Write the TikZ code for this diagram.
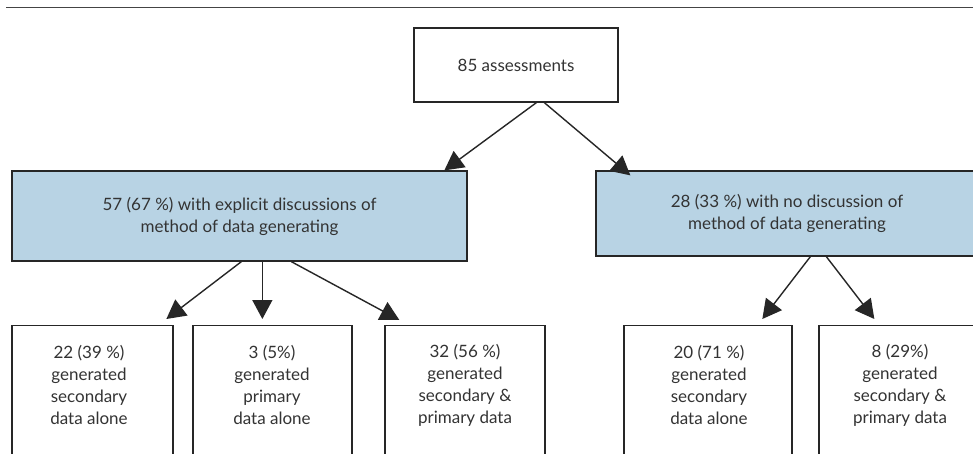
\documentclass[tikz,border=0pt]{standalone}
\usepackage{fontspec}
\setmainfont{Lato}
\usetikzlibrary{arrows.meta,calc}
\definecolor{boxblue}{HTML}{B8D3E4}
\definecolor{edge}{HTML}{262626}
\definecolor{txt}{HTML}{333333}
\definecolor{rulegray}{HTML}{444444}
\begin{document}
\begin{tikzpicture}[x=1pt,y=-1pt,
  every node/.style={font=\fontsize{17}{22}\selectfont, text=txt},
  whitebox/.style={draw=edge, line width=1.3pt, fill=white, inner sep=0pt},
  bluebox/.style={draw=edge, line width=1.3pt, fill=boxblue, inner sep=0pt, align=center},
  lbl/.style={align=center, inner sep=0pt},
  arr/.style={draw=edge, line width=1.4pt, -{Triangle[length=19pt,width=20pt]}}
]
\useasboundingbox (0,0) rectangle (973,453);
\clip (0,0) rectangle (973,453);
\fill[white] (0,0) rectangle (973,453);
\coordinate (ruleL) at (6,7.5);
\coordinate (ruleR) at (973,7.5);
\draw[rulegray, line width=1.7pt] (ruleL) -- (ruleR);

\node[whitebox, minimum width=204pt, minimum height=74pt] (top) at (516,65) {85 assessments};
\node[bluebox, minimum width=455pt, minimum height=90pt] (lb) at (239.5,216)
  {57 (67 \%) with explicit discussions of\\method of data generating};
\node[bluebox, minimum width=382pt, minimum height=85pt] (rb) at (787,213.5)
  {28 (33 \%) with no discussion of\\method of data generating};

\node[whitebox, minimum width=161pt, minimum height=175pt, anchor=north] (b1) at (92.5,325) {};
\node[whitebox, minimum width=159pt, minimum height=175pt, anchor=north] (b2) at (272.5,325) {};
\node[whitebox, minimum width=160pt, minimum height=175pt, anchor=north] (b3) at (465,325) {};
\node[whitebox, minimum width=168pt, minimum height=175pt, anchor=north] (b4) at (708,325) {};
\node[whitebox, minimum width=160pt, minimum height=175pt, anchor=north] (b5) at (899,325) {};

\node[lbl] (t1) at (89,385) {22 (39 \%)\\generated\\secondary\\data alone};
\node[lbl] (t2) at (272,385) {3 (5\%)\\generated\\primary\\data alone};
\node[lbl] (t3) at (465,385) {32 (56 \%)\\generated\\secondary \&\\primary data};
\node[lbl] (t4) at (709,385) {20 (71 \%)\\generated\\secondary\\data alone};
\node[lbl] (t5) at (900,385) {8 (29\%)\\generated\\secondary \&\\primary data};

\draw[arr] ($(top.south west)+(123,0)$) -- ($(lb.north west)+(433,0)$);
\draw[arr] ($(top.south west)+(131,0)$) -- ($(rb.north west)+(35,5)$);
\draw[arr] ($(lb.south west)+(230,0)$) -- ($(b1.north west)+(155,-6)$);
\draw[arr] ($(lb.south west)+(251,0)$) -- ($(b2.north west)+(70,-6)$);
\draw[arr] ($(lb.south west)+(280,0)$) -- ($(b3.north west)+(15,-5)$);
\draw[arr] ($(rb.south west)+(215,0)$) -- ($(b4.north west)+(139,-6)$);
\draw[arr] ($(rb.south west)+(231,0)$) -- ($(b5.north west)+(56,-6)$);
\end{tikzpicture}
\end{document}
